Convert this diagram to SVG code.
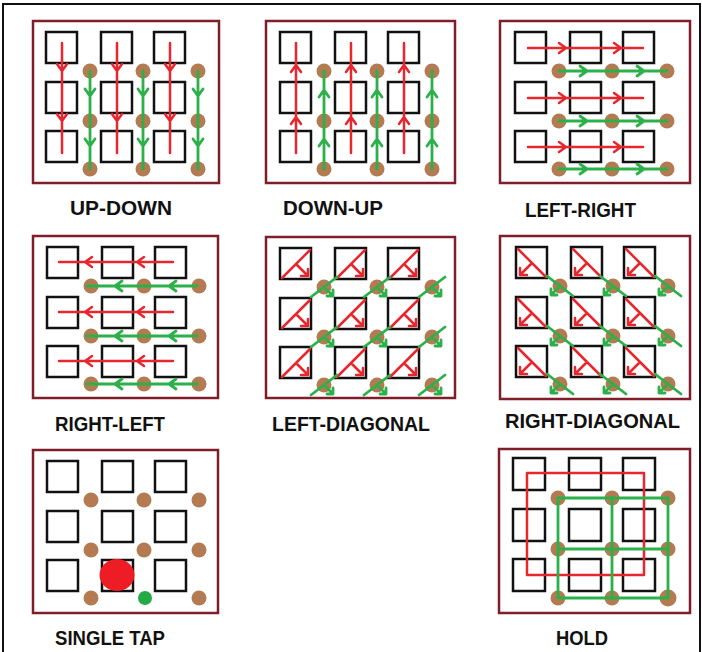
<svg xmlns="http://www.w3.org/2000/svg" xmlns:xlink="http://www.w3.org/1999/xlink" width="702" height="652" viewBox="0 0 702 652">
<style>
.frame{fill:none;stroke:#7f1d2b;stroke-width:2.5}
.sq{fill:none;stroke:#111;stroke-width:2.5}
.dot{fill:#b47a52}
.r{fill:none;stroke:#e8262d;stroke-width:2.5;stroke-linecap:round;stroke-linejoin:round}
.g{fill:none;stroke:#2bb04a;stroke-width:2.8;stroke-linecap:round;stroke-linejoin:round}
.lbl{font-family:"Liberation Sans",Arial,sans-serif;font-weight:bold;font-size:21px;fill:#111}
</style>
<defs>
<g id="sq">
<rect class="sq" x="14" y="11" width="31" height="31"/><rect class="sq" x="69" y="11" width="31" height="31"/><rect class="sq" x="122" y="11" width="31" height="31"/>
<rect class="sq" x="14" y="61" width="31" height="31"/><rect class="sq" x="69" y="61" width="31" height="31"/><rect class="sq" x="122" y="61" width="31" height="31"/>
<rect class="sq" x="14" y="110" width="31" height="31"/><rect class="sq" x="69" y="110" width="31" height="31"/><rect class="sq" x="122" y="110" width="31" height="31"/>
</g>
<g id="dots">
<circle class="dot" cx="58" cy="50" r="7.5"/><circle class="dot" cx="111" cy="50" r="7.5"/><circle class="dot" cx="166" cy="50" r="7.5"/>
<circle class="dot" cx="58" cy="100" r="7.5"/><circle class="dot" cx="111" cy="100" r="7.5"/><circle class="dot" cx="166" cy="100" r="7.5"/>
<circle class="dot" cx="58" cy="148" r="7.5"/><circle class="dot" cx="111" cy="148" r="7.5"/><circle class="dot" cx="166" cy="148" r="7.5"/>
</g>
</defs>
<rect width="702" height="652" fill="#fff"/>
<path d="M3,652V4H700V652" fill="none" stroke="#111" stroke-width="2"/>

<g id="up-down">
<rect class="frame" x="33" y="21" width="186" height="162"/>
<g transform="translate(32,21)">
<use xlink:href="#sq"/><use xlink:href="#dots"/>
<path class="r" d="M30,22V132M85,22V132M138,22V132M25,43L30,50L35,43M25,93L30,100L35,93M80,43L85,50L90,43M80,93L85,100L90,93M133,43L138,50L143,43M133,93L138,100L143,93"/>
<path class="g" d="M58,50V148M111,50V148M166,50V148M53,68L58,75L63,68M53,118L58,125L63,118M106,68L111,75L116,68M106,118L111,125L116,118M161,68L166,75L171,68M161,118L166,125L171,118"/>
</g>
<text class="lbl" x="70" y="215" textLength="102" lengthAdjust="spacingAndGlyphs">UP-DOWN</text>
</g>

<g id="down-up">
<rect class="frame" x="266" y="21" width="189" height="162"/>
<g transform="translate(266,21)">
<use xlink:href="#sq"/><use xlink:href="#dots"/>
<path class="r" d="M30,22V132M85,22V132M138,22V132M25,51L30,44L35,51M25,103L30,96L35,103M80,51L85,44L90,51M80,103L85,96L90,103M133,51L138,44L143,51M133,103L138,96L143,103"/>
<path class="g" d="M58,50V148M111,50V148M166,50V148M53,76L58,69L63,76M53,125L58,118L63,125M106,76L111,69L116,76M106,125L111,118L116,125M161,76L166,69L171,76M161,125L166,118L171,125"/>
</g>
<text class="lbl" x="283" y="215" textLength="100" lengthAdjust="spacingAndGlyphs">DOWN-UP</text>
</g>

<g id="left-right">
<rect class="frame" x="500" y="21" width="190" height="162"/>
<g transform="translate(501,21)">
<use xlink:href="#sq"/><use xlink:href="#dots"/>
<path class="r" d="M27,27H142M27,77H142M27,126H142M58,22L65,27L58,32M113,22L120,27L113,32M58,72L65,77L58,82M113,72L120,77L113,82M58,121L65,126L58,131M113,121L120,126L113,131"/>
<path class="g" d="M58,50H166M58,100H166M58,148H166M79,45L86,50L79,55M136,45L143,50L136,55M79,95L86,100L79,105M136,95L143,100L136,105M79,143L86,148L79,153M136,143L143,148L136,153"/>
</g>
<text class="lbl" x="525" y="217" textLength="111" lengthAdjust="spacingAndGlyphs">LEFT-RIGHT</text>
</g>

<g id="right-left">
<rect class="frame" x="33" y="236" width="185" height="162"/>
<g transform="translate(33,236)">
<use xlink:href="#sq"/><use xlink:href="#dots"/>
<path class="r" d="M26,26H140M26,76H140M26,125H140M59,21L52,26L59,31M111,21L104,26L111,31M59,71L52,76L59,81M111,71L104,76L111,81M59,120L52,125L59,130M111,120L104,125L111,130"/>
<path class="g" d="M54,50H164M54,100H164M54,148H164M89,45L82,50L89,55M143,45L136,50L143,55M89,95L82,100L89,105M143,95L136,100L143,105M89,143L82,148L89,153M143,143L136,148L143,153"/>
</g>
<text class="lbl" x="55" y="431" textLength="110" lengthAdjust="spacingAndGlyphs">RIGHT-LEFT</text>
</g>

<g id="left-diagonal">
<rect class="frame" x="266" y="237" width="189" height="161"/>
<g transform="translate(266,237)">
<use xlink:href="#sq"/><use xlink:href="#dots"/>
<path class="r" d="M16,41L44,13M30,27L42,39M42,32L42,39L35,39M71,41L99,13M85,27L97,39M97,32L97,39L90,39M124,41L152,13M138,27L150,39M150,32L150,39L143,39M16,91L44,63M30,77L42,89M42,82L42,89L35,89M71,91L99,63M85,77L97,89M97,82L97,89L90,89M124,91L152,63M138,77L150,89M150,82L150,89L143,89M16,140L44,112M30,126L42,138M42,131L42,138L35,138M71,140L99,112M85,126L97,138M97,131L97,138L90,138M124,140L152,112M138,126L150,138M150,131L150,138L143,138"/>
<path class="g" d="M45,60L71,40M58,50L67,59M67,53L67,59L61,59M98,60L124,40M111,50L120,59M120,53L120,59L114,59M153,60L179,40M166,50L175,59M175,53L175,59L169,59M45,110L71,90M58,100L67,109M67,103L67,109L61,109M98,110L124,90M111,100L120,109M120,103L120,109L114,109M153,110L179,90M166,100L175,109M175,103L175,109L169,109M45,158L71,138M58,148L67,157M67,151L67,157L61,157M98,158L124,138M111,148L120,157M120,151L120,157L114,157M153,158L179,138M166,148L175,157M175,151L175,157L169,157"/>
</g>
<text class="lbl" x="272" y="431" textLength="158" lengthAdjust="spacingAndGlyphs">LEFT-DIAGONAL</text>
</g>

<g id="right-diagonal">
<rect class="frame" x="500" y="236" width="190" height="163"/>
<g transform="translate(502,236)">
<use xlink:href="#sq"/><use xlink:href="#dots"/>
<path class="r" d="M16,13L44,41M30,27L18,39M18,32L18,39L25,39M71,13L99,41M85,27L73,39M73,32L73,39L80,39M124,13L152,41M138,27L126,39M126,32L126,39L133,39M16,63L44,91M30,77L18,89M18,82L18,89L25,89M71,63L99,91M85,77L73,89M73,82L73,89L80,89M124,63L152,91M138,77L126,89M126,82L126,89L133,89M16,112L44,140M30,126L18,138M18,131L18,138L25,138M71,112L99,140M85,126L73,138M73,131L73,138L80,138M124,112L152,140M138,126L126,138M126,131L126,138L133,138"/>
<path class="g" d="M45,40L71,60M58,50L49,59M49,53L49,59L55,59M98,40L124,60M111,50L102,59M102,53L102,59L108,59M153,40L179,60M166,50L157,59M157,53L157,59L163,59M45,90L71,110M58,100L49,109M49,103L49,109L55,109M98,90L124,110M111,100L102,109M102,103L102,109L108,109M153,90L179,110M166,100L157,109M157,103L157,109L163,109M45,138L71,158M58,148L49,157M49,151L49,157L55,157M98,138L124,158M111,148L102,157M102,151L102,157L108,157M153,138L179,158M166,148L157,157M157,151L157,157L163,157"/>
</g>
<text class="lbl" x="505" y="428" textLength="175" lengthAdjust="spacingAndGlyphs">RIGHT-DIAGONAL</text>
</g>

<g id="single-tap">
<rect class="frame" x="33" y="450" width="185" height="163"/>
<g transform="translate(33,450)">
<use xlink:href="#sq"/>
<circle class="dot" cx="58" cy="50" r="7.5"/><circle class="dot" cx="111" cy="50" r="7.5"/><circle class="dot" cx="166" cy="50" r="7.5"/>
<circle class="dot" cx="58" cy="100" r="7.5"/><circle class="dot" cx="111" cy="100" r="7.5"/><circle class="dot" cx="166" cy="100" r="7.5"/>
<circle class="dot" cx="58" cy="148" r="7.5"/><circle class="dot" cx="166" cy="148" r="7.5"/>
<circle cx="112" cy="148" r="7" fill="#22aa44"/>
<ellipse cx="84" cy="125" rx="17.5" ry="16" fill="#ee1c25"/>
</g>
<text class="lbl" x="55" y="645" textLength="110" lengthAdjust="spacingAndGlyphs">SINGLE TAP</text>
</g>

<g id="hold">
<rect class="frame" x="499" y="449" width="191" height="164"/>
<g transform="translate(499,448)">
<rect class="sq" x="14" y="10" width="32" height="32"/><rect class="sq" x="70" y="10" width="32" height="32"/><rect class="sq" x="124" y="10" width="32" height="32"/>
<rect class="sq" x="14" y="61" width="32" height="32"/><rect class="sq" x="70" y="61" width="32" height="32"/><rect class="sq" x="124" y="61" width="32" height="32"/>
<rect class="sq" x="14" y="111" width="32" height="32"/><rect class="sq" x="70" y="111" width="32" height="32"/><rect class="sq" x="124" y="111" width="32" height="32"/>
<circle class="dot" cx="59" cy="50" r="7.5"/><circle class="dot" cx="113" cy="50" r="7.5"/><circle class="dot" cx="169" cy="50" r="7.5"/>
<circle class="dot" cx="59" cy="101" r="7.5"/><circle class="dot" cx="113" cy="101" r="7.5"/><circle class="dot" cx="169" cy="101" r="7.5"/>
<circle class="dot" cx="59" cy="150" r="7.5"/><circle class="dot" cx="113" cy="150" r="7.5"/><circle class="dot" cx="169" cy="150" r="8.5"/>
<rect class="r" x="28" y="25" width="117" height="102"/>
<path class="g" d="M59,50H169V150H59ZM113,50V150M59,101H169"/>
</g>
<text class="lbl" x="556" y="645" textLength="52" lengthAdjust="spacingAndGlyphs">HOLD</text>
</g>
</svg>
